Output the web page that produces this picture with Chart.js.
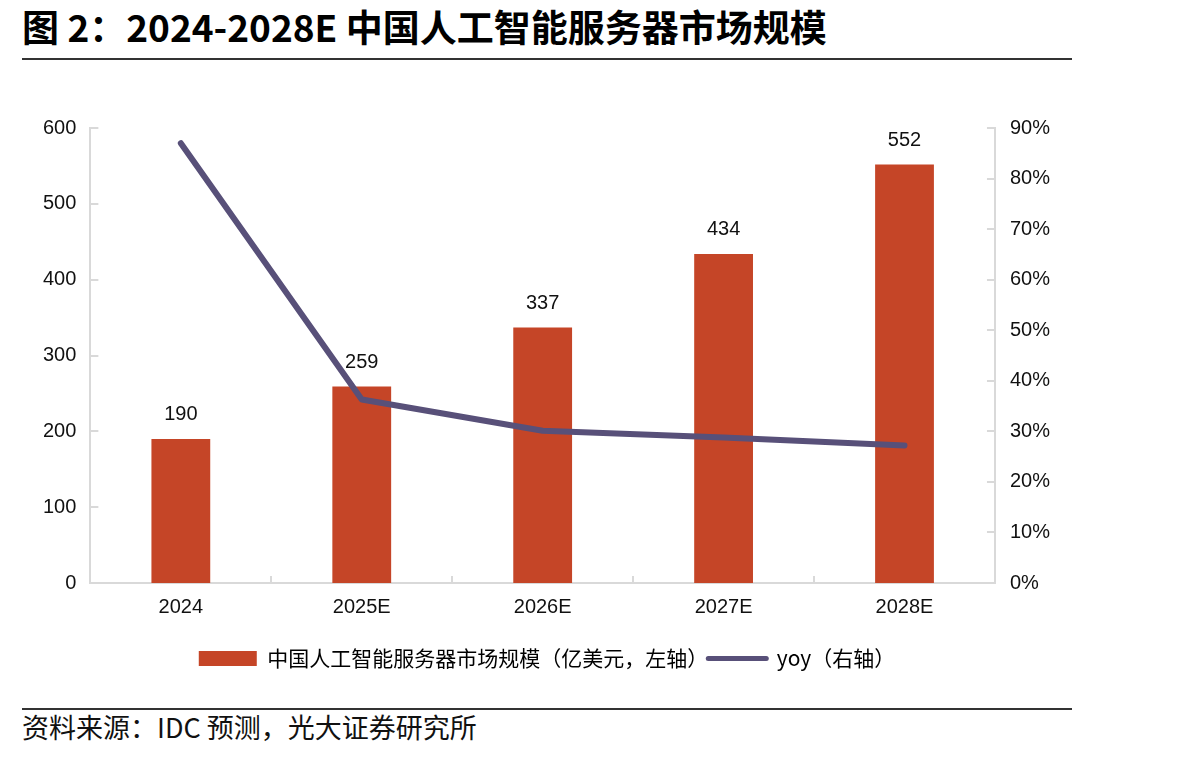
<!DOCTYPE html>
<html>
<head>
<meta charset="utf-8">
<script src="https://cdn.jsdelivr.net/npm/chart.js@4"></script>
<style>
  html, body { margin: 0; padding: 0; background: #fff; }
  body { width: 1204px; height: 757px; position: relative; overflow: hidden; }
  .title {
    position: absolute; left: 22px; top: 8px;
    font: bold 37px/37px "Noto Sans CJK SC", sans-serif; color: #000;
    white-space: nowrap;
  }
  .rule { position: absolute; left: 22px; width: 1050px; height: 2px; background: #333; }
  .source {
    position: absolute; left: 22px; top: 712px;
    font: 27px/30px "Noto Sans CJK SC", sans-serif; color: #111;
    white-space: nowrap;
  }
  .chart-box { position: absolute; left: 0; top: 70px; width: 1204px; height: 609px; }
</style>
</head>
<body>
<div class="title">图 2：2024-2028E 中国人工智能服务器市场规模</div>
<div class="rule" style="top:58px"></div>
<div class="chart-box"><canvas id="myChart"></canvas></div>
<div class="rule" style="top:708px"></div>
<div class="source">资料来源：IDC 预测，光大证券研究所</div>

<script>
const years = ['2024', '2025E', '2026E', '2027E', '2028E'];
const marketSize = [190, 259, 337, 434, 552];   // 亿美元
const yoy = [87.0, 36.3, 30.1, 28.8, 27.2];       // %
const leftTicks = [0, 100, 200, 300, 400, 500, 600];
const rightTicks = [0, 10, 20, 30, 40, 50, 60, 70, 80, 90];

const barColor = '#C54527';
const lineColor = '#585079';
const axisColor = '#d9d9d9';
const tickFont = { family: '"Liberation Sans", Arial, sans-serif', size: 20 };

// small inward tick marks like the original
const innerTicks = {
  id: 'innerTicks',
  afterDraw(chart) {
    const ctx = chart.ctx;
    const x = chart.scales.x, yl = chart.scales.y, yr = chart.scales.yRight;
    ctx.save();
    ctx.strokeStyle = axisColor;
    ctx.lineWidth = 2;
    ctx.beginPath();
    leftTicks.forEach(v => {
      const p = Math.round(yl.getPixelForValue(v));
      ctx.moveTo(yl.right, p); ctx.lineTo(yl.right + 8, p);
    });
    rightTicks.forEach(v => {
      const p = Math.round(yr.getPixelForValue(v));
      ctx.moveTo(yr.left - 8, p); ctx.lineTo(yr.left, p);
    });
    for (let i = 0; i < years.length - 1; i++) {
      const p = Math.round((x.getPixelForValue(i) + x.getPixelForValue(i + 1)) / 2);
      ctx.moveTo(p, x.top); ctx.lineTo(p, x.top - 7);
    }
    ctx.stroke();
    ctx.restore();
  }
};

// value labels above the bars
const barLabels = {
  id: 'barLabels',
  afterDatasetsDraw(chart) {
    const ctx = chart.ctx;
    const meta = chart.getDatasetMeta(0);
    ctx.save();
    ctx.font = tickFont.size + 'px ' + tickFont.family;
    ctx.fillStyle = '#111';
    ctx.textAlign = 'center';
    ctx.textBaseline = 'middle';
    meta.data.forEach((bar, i) => {
      ctx.fillText(marketSize[i], bar.x, bar.y - 24);
    });
    ctx.restore();
  }
};

const ctx = document.getElementById('myChart').getContext('2d');

const data = {
  labels: years,
  datasets: [{
    type: 'bar',
    label: '中国人工智能服务器市场规模（亿美元，左轴）',
    data: marketSize,
    backgroundColor: barColor,
    yAxisID: 'y',
    order: 1,
    categoryPercentage: 1,
    barPercentage: 0.325
  }, {
    type: 'line',
    label: 'yoy（右轴）',
    data: yoy,
    borderColor: lineColor,
    backgroundColor: lineColor,
    borderWidth: 6,
    pointRadius: 0,
    tension: 0,
    borderCapStyle: 'round',
    borderJoinStyle: 'round',
    yAxisID: 'yRight',
    order: 0
  }]
};

const config = {
  data: data,
  options: {
    responsive: true,
    maintainAspectRatio: false,
    animation: false,
    layout: {
      padding: { top: 58, left: 29, right: 139, bottom: 0 }
    },
    plugins: {
      tooltip: { enabled: false },
      legend: {
        position: 'bottom',
        labels: {
          usePointStyle: true,
          pointStyleWidth: 58,
          boxHeight: 15,
          padding: 0,
          color: '#222',
          font: { family: '"Noto Sans CJK SC", sans-serif', size: 21 },
          generateLabels(chart) {
            return chart.data.datasets.map((ds, i) => ({
              text: ds.label,
              fillStyle: ds.backgroundColor,
              strokeStyle: ds.type === 'line' ? ds.borderColor : ds.backgroundColor,
              lineWidth: ds.type === 'line' ? 5 : 0,
              lineCap: 'round',
              pointStyle: ds.type === 'line' ? 'line' : 'rect',
              datasetIndex: i,
              hidden: false
            }));
          }
        }
      }
    },
    scales: {
      x: {
        offset: true,
        grid: { display: false, drawTicks: false },
        border: { display: true, color: axisColor, width: 2 },
        ticks: { color: '#111', font: tickFont, padding: 12 },
        afterFit(scale) { scale.height += 17; }
      },
      y: {
        position: 'left',
        min: 0,
        max: 600,
        grid: { display: false, drawTicks: false },
        border: { display: true, color: axisColor, width: 2 },
        afterBuildTicks(scale) { scale.ticks = leftTicks.map(v => ({ value: v })); },
        ticks: { color: '#111', font: tickFont, padding: 14 }
      },
      yRight: {
        position: 'right',
        min: 0,
        max: 90,
        grid: { display: false, drawTicks: false },
        border: { display: true, color: axisColor, width: 2 },
        afterBuildTicks(scale) { scale.ticks = rightTicks.map(v => ({ value: v })); },
        ticks: {
          color: '#111', font: tickFont, padding: 15,
          callback: function (value) { return value + '%'; }
        }
      }
    }
  },
  plugins: [innerTicks, barLabels]
};

const myChart = new Chart(ctx, config);
</script>
</body>
</html>
